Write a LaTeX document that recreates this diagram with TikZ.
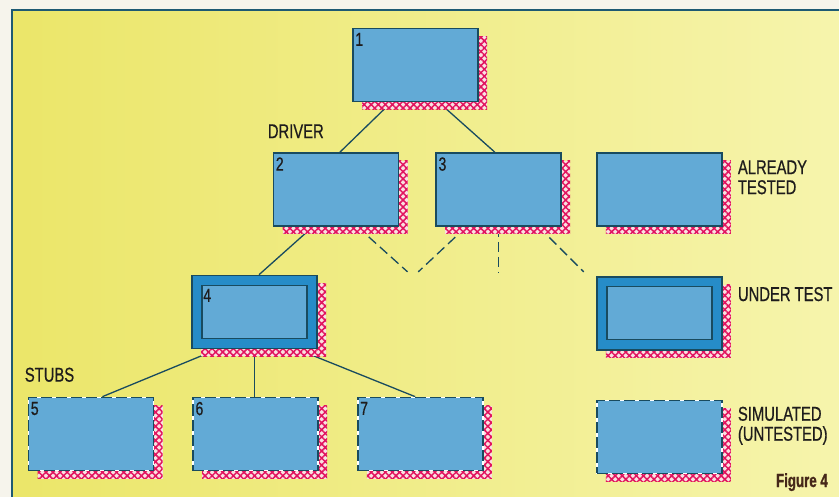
\documentclass[tikz,border=0pt]{standalone}
\usepackage{fontspec}
\newfontfamily\labelfont[FakeStretch=0.74, FakeBold=0.6]{Liberation Sans}
\newfontfamily\figfont[FakeStretch=0.7, FakeBold=1.2]{Liberation Sans Bold}
\usetikzlibrary{positioning, calc, backgrounds, shadows, patterns.meta}

\definecolor{pagewhite}{RGB}{246,244,236}
\definecolor{bgyellow}{RGB}{235,230,105}
\definecolor{bgpale}{RGB}{246,244,172}
\definecolor{frameline}{RGB}{30,90,115}
\definecolor{boxline}{RGB}{25,75,95}
\definecolor{boxfill}{RGB}{98,170,214}
\definecolor{ringblue}{RGB}{38,140,200}
\definecolor{shadowred}{RGB}{225,20,95}
\definecolor{shadowbg}{RGB}{250,225,225}
\definecolor{inktext}{RGB}{30,28,28}
\definecolor{figink}{RGB}{70,40,25}

\tikzset{
  modbox/.style={
    draw=boxline, line width=1.7pt, fill=boxfill,
    minimum width=125pt, minimum height=73pt, inner sep=0pt,
    general shadow={shadow xshift=9pt, shadow yshift=-8pt, fill=shadowbg},
    general shadow={shadow xshift=9pt, shadow yshift=-8pt,
      pattern={Hatch[angle=45, distance=5pt, line width=1.5pt]},
      pattern color=shadowred}
  },
  testbox/.style={
    modbox, fill=ringblue,
    path picture={
      \draw[boxline, line width=1.2pt, fill=boxfill]
        ($(path picture bounding box.south west)+(10pt,10pt)$) rectangle
        ($(path picture bounding box.north east)+(-10pt,-10pt)$);
    }
  },
  stubbox/.style={
    modbox, draw=white,
    postaction={draw=boxline, dash pattern=on 11pt off 4pt}
  },
  numlabel/.style={
    anchor=north west, inner xsep=3pt, inner ysep=5pt, text=inktext,
    font=\labelfont\fontsize{19}{19}\selectfont
  },
  numinset/.style={numlabel, inner xsep=12pt, inner ysep=14pt},
  keytext/.style={
    inner sep=0pt, align=left, text=inktext,
    font=\labelfont\fontsize{20}{20}\selectfont
  },
  figtext/.style={
    inner sep=0pt, text=figink, font=\figfont\fontsize{19}{19}\selectfont
  },
  link/.style={draw=boxline, line width=1.3pt},
  openlink/.style={link, dash pattern=on 10pt off 5pt},
}

\begin{document}
\begin{tikzpicture}[x=1pt, y=-1pt, node distance=49pt and 36pt]
  \useasboundingbox (0,0) rectangle (839,497);

  % module tree
  \node[modbox, label={[numlabel]north west:1}] (mod1) at (415.5,65) {};
  \node[modbox, label={[numlabel]north west:2}] (mod2) at (336,189.5) {};
  \node[modbox, label={[numlabel]north west:3}, right=36pt of mod2] (mod3) {};
  \node[testbox, label={[numinset]north west:4}] (mod4) at (254.5,312) {};
  \node[stubbox, label={[numlabel]north west:5}] (mod5) at (91,434) {};
  \node[stubbox, label={[numlabel]north west:6}, right=38pt of mod5] (mod6) {};
  \node[stubbox, label={[numlabel]north west:7}, right=38pt of mod6] (mod7) {};

  % key
  \node[modbox, right=34pt of mod3] (keytested) {};
  \node[testbox, below=49pt of keytested] (keyunder) {};
  \node[stubbox, below=49pt of keyunder] (keysim) {};
  \node[keytext, below right=8pt and 15pt of keytested.north east] (testedtext) {ALREADY\\TESTED};
  \node[keytext, below right=11pt and 15pt of keyunder.north east] (undertext) {UNDER TEST};
  \node[keytext, below right=7pt and 15pt of keysim.north east] (simtext) {SIMULATED\\(UNTESTED)};

  \node[keytext, anchor=base west] (driver) at ($(mod2.north west)+(-5,-14)$) {DRIVER};
  \node[keytext, anchor=base west] (stubs) at ($(mod5.north west)+(-3,-15)$) {STUBS};
  \node[figtext, anchor=base east] (caption) at (828,487) {Figure 4};

  \begin{scope}[on background layer]
    \fill[pagewhite] (0,0) rectangle (839,497);
    \shade[left color=bgyellow, right color=bgpale] (12,10) rectangle (839,497);
    \draw[frameline, line width=1.8pt] (12,497) -- (12,10) -- (839,10);

    \draw[link] (mod1.-123) -- (mod2.84);
    \draw[link] (mod1.-58) -- (mod3.96);
    \draw[link] (mod2.-122) -- (mod4.83);
    \draw[link] (mod4.-135) -- (mod5.73);
    \draw[link] (mod4.south) -- (mod4.south |- mod6.north);
    \draw[link] (mod4.-41) -- (mod7.98);

    \coordinate (openA) at ($(mod2.-60)+(50,45)$);
    \coordinate (openB) at ($(mod3.-131)+(-48,45)$);
    \coordinate (openC) at ($(mod3.south)+(0,46)$);
    \coordinate (openD) at ($(mod3.-43.5)+(45,45)$);
    \draw[openlink] (mod2.-60) -- (openA);
    \draw[openlink] (mod3.-131) -- (openB);
    \draw[openlink] (mod3.south) -- (openC);
    \draw[openlink] (mod3.-43.5) -- (openD);
  \end{scope}
\end{tikzpicture}
\end{document}
